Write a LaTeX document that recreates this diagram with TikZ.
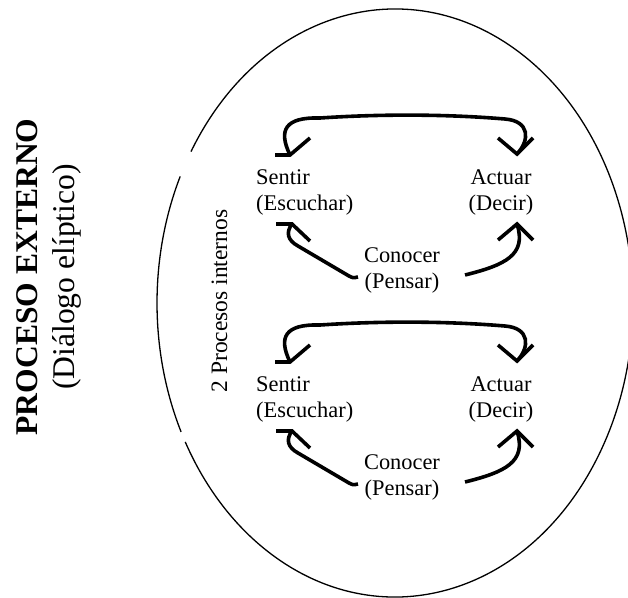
\documentclass[tikz,border=0pt]{standalone}
\usepackage{fontspec}
\setmainfont{Liberation Serif}

% One internal cycle: Sentir -> Actuar -> Conocer, shifted down by #1
% (the base anchor of a two-line label sits on its second line)
\newcommand\cicloproc[2]{%
\begin{scope}[shift={(0,#1)}]
  \node[lbl, anchor=base west, align=left] (sent#2) at (256,210) {Sentir\\(Escuchar)};
  \node[lbl, anchor=base, align=center] (act#2) at (501,210) {Actuar\\(Decir)};
  \node[lbl, anchor=base, align=center] (con#2) at (402,288) {Conocer\\(Pensar)};
  \coordinate (tl#2) at (290,155);
  \coordinate (tr#2) at (517,154);
  \coordinate (bl#2) at (292,224);
  \coordinate (br#2) at (517,224);
  \coordinate (cl#2) at (358,277);
  \coordinate (cr#2) at (465,275);
  % upper two-way arrow between Sentir and Actuar
  \draw[flow] (tl#2) .. controls (278,130) and (285,117) .. (320,118)
              .. controls (380,114) and (445,114) .. (505,119)
              .. controls (530,121) and (530,140) .. (tr#2);
  \draw[head] (tl#2) ++(-15,0) -- (tl#2) -- ++(20,-17);
  \draw[head] (tr#2) ++(-19,-16) -- (tr#2) -- ++(16,-16);
  % Conocer back to Sentir
  \draw[flow] (bl#2) .. controls (286,232) and (287,240) .. (298,246)
              -- (349,276) .. controls (353,278) .. (cl#2);
  \draw[head] (bl#2) ++(-16,0) -- (bl#2) -- ++(18,17);
  % Conocer up to Actuar
  \draw[flow] (cr#2) .. controls (505,265) and (527,255) .. (br#2);
  \draw[head] (br#2) ++(-19,16) -- (br#2) -- ++(16,16);
\end{scope}}

\begin{document}
\begin{tikzpicture}[x=1pt,y=-1pt,
  lbl/.style={inner sep=0pt, font=\fontsize{22.4}{26}\selectfont},
  flow/.style={line width=3.6pt, line cap=butt},
  head/.style={line width=3.6pt, line cap=butt, line join=miter},
  oval/.style={line width=1.3pt}]
\useasboundingbox (0,0) rectangle (628,597);
\clip (0,0) rectangle (628,597);

% outer process: the large ellipse, broken in two places on the left
\coordinate (ell) at (395,303);
\draw[oval] (ell) ++(154:238 and 294)
  arc[start angle=154, end angle=205.5, x radius=238, y radius=294];
\draw[oval] (ell) ++(211:238 and 294)
  arc[start angle=211, end angle=511.8, x radius=238, y radius=294];

% titles
\node[rotate=90, align=center, inner sep=0pt,
      font=\fontsize{31.6}{36.5}\selectfont] (ext) at (48.8,277)
      {\textbf{PROCESO EXTERNO}\\(Diálogo elíptico)};
\node[rotate=90, anchor=base, inner sep=0pt,
      font=\fontsize{23.5}{28}\selectfont] (int) at (227,301) {2 Procesos internos};

% the two internal cycles
\cicloproc{0}{a}
\cicloproc{207}{b}
\end{tikzpicture}
\end{document}
